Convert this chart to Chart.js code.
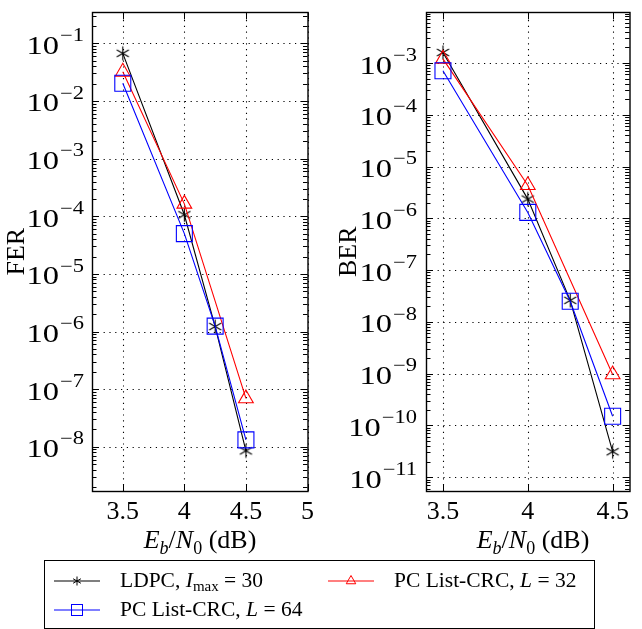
<!DOCTYPE html>
<html>
<head>
<meta charset="utf-8">
<script src="https://cdn.jsdelivr.net/npm/chart.js@4.4.1/dist/chart.umd.min.js"></script>
<style>
  html, body { margin: 0; padding: 0; background: #fff; }
  body { width: 642px; height: 629px; position: relative; overflow: hidden; font-family: "Liberation Serif", "Times New Roman", serif; color: #000; }
  canvas { position: absolute; top: 0; }
  #c1 { left: 0; }
  #c2 { left: 322px; }
  .xl { position: absolute; font-size: 26px; line-height: 26px; white-space: nowrap; transform: translateX(-50%); }
  .xl sub { font-size: 18px; line-height: 0; position: relative; top: 1px; vertical-align: -5px; }
  #legend { position: absolute; left: 44px; top: 560px; width: 549px; height: 67px; border: 1px solid #000; box-sizing: content-box; }
  .le { position: absolute; font-size: 21.5px; line-height: 24px; white-space: nowrap; }
  .le sub { font-size: 15px; line-height: 0; vertical-align: -4px; }
  .ls { position: absolute; }
</style>
</head>
<body>
<canvas id="c1" width="320" height="530"></canvas>
<canvas id="c2" width="320" height="530"></canvas>
<div class="xl" style="left:200px; top:527px;"><i>E</i><sub><i>b</i></sub>/<i>N</i><sub>0</sub> (dB)</div>
<div class="xl" style="left:533px; top:527px;"><i>E</i><sub><i>b</i></sub>/<i>N</i><sub>0</sub> (dB)</div>
<div id="legend"></div>
<script>
// ---- data ----
const ebn0 = [3.5, 4.0, 4.25, 4.5];

const ferLdpc = [0.067, 1.06e-4, 1.22e-6, 8.5e-9];
const ferPc32 = [0.032, 1.64e-4, null, 6.9e-8];
const ferPc64 = [0.0203, 5.0e-5, 1.24e-6, 1.32e-8];

const berLdpc = [1.6e-3, 2.35e-6, 2.6e-8, 3.1e-11];
const berPc32 = [1.2e-3, 4.35e-6, null, 9.6e-10];
const berPc64 = [7.1e-4, 1.3e-6, 2.5e-8, 1.5e-10];

const xTicksFer = [3.5, 4, 4.5, 5];
const xTicksBer = [3.5, 4, 4.5];
const yTicksFer = [1e-8, 1e-7, 1e-6, 1e-5, 1e-4, 1e-3, 1e-2, 1e-1];
const yTicksBer = [1e-11, 1e-10, 1e-9, 1e-8, 1e-7, 1e-6, 1e-5, 1e-4, 1e-3];

const seriesNames = ['LDPC, I_max = 30', 'PC List-CRC, L = 32', 'PC List-CRC, L = 64'];

// ---- styling ----
const FONT = '"Liberation Serif", "Times New Roman", serif';
const BLACK = '#000000', RED = '#ff0000', BLUE = '#0000ff';

function asteriskImg(color, r, lw) {
  const s = Math.ceil(2 * r + lw + 2) | 1;
  const c = document.createElement('canvas');
  c.width = c.height = s;
  const g = c.getContext('2d');
  g.strokeStyle = color; g.lineWidth = lw; g.lineCap = 'butt';
  g.beginPath();
  [90, 30, 150].forEach(deg => {
    const a = deg * Math.PI / 180;
    g.moveTo(s / 2 - r * Math.cos(a), s / 2 + r * Math.sin(a));
    g.lineTo(s / 2 + r * Math.cos(a), s / 2 - r * Math.sin(a));
  });
  g.stroke();
  return c;
}
const starPt = asteriskImg(BLACK, 7, 1.1);

function supDigits(e) { return '\u2212' + Math.abs(e); }

const pgfAxes = {
  id: 'pgfAxes',
  beforeDatasetsDraw(chart) {
    const { ctx, chartArea: a, scales: { x, y } } = chart;
    ctx.save();
    ctx.strokeStyle = '#000';
    ctx.lineWidth = 1.1;
    ctx.setLineDash([1.2, 4.6]);
    ctx.beginPath();
    x.ticks.forEach(t => {
      const px = Math.round(x.getPixelForValue(t.value)) + 0.5;
      ctx.moveTo(px, a.bottom); ctx.lineTo(px, a.top);
    });
    y.ticks.forEach(t => {
      const py = Math.round(y.getPixelForValue(t.value)) + 0.5;
      ctx.moveTo(a.left, py); ctx.lineTo(a.right, py);
    });
    ctx.stroke();
    ctx.restore();
  },
  afterDatasetsDraw(chart, args, opts) {
    const { ctx, chartArea: a, scales: { x, y } } = chart;
    ctx.save();
    ctx.strokeStyle = '#000';
    ctx.lineWidth = 1;
    ctx.beginPath();
    const MAJ = 7, MIN = 4.5;
    x.ticks.forEach(t => {
      const px = Math.round(x.getPixelForValue(t.value)) + 0.5;
      ctx.moveTo(px, a.bottom); ctx.lineTo(px, a.bottom - MAJ);
      ctx.moveTo(px, a.top); ctx.lineTo(px, a.top + MAJ);
    });
    y.ticks.forEach(t => {
      const py = Math.round(y.getPixelForValue(t.value)) + 0.5;
      ctx.moveTo(a.left, py); ctx.lineTo(a.left + MAJ, py);
      ctx.moveTo(a.right, py); ctx.lineTo(a.right - MAJ, py);
    });
    const k0 = Math.floor(Math.log10(y.min)), k1 = Math.ceil(Math.log10(y.max));
    for (let k = k0; k <= k1; k++) {
      for (let m = 2; m <= 9; m++) {
        const v = m * Math.pow(10, k);
        if (v <= y.min || v >= y.max) continue;
        const py = Math.round(y.getPixelForValue(v)) + 0.5;
        ctx.moveTo(a.left, py); ctx.lineTo(a.left + MIN, py);
        ctx.moveTo(a.right, py); ctx.lineTo(a.right - MIN, py);
      }
    }
    ctx.stroke();
    // frame
    ctx.lineWidth = 1.4;
    ctx.strokeRect(Math.round(a.left) + 0.5, Math.round(a.top) + 0.5, Math.round(a.right - a.left) - 0.5, Math.round(a.bottom - a.top));
    // y tick labels 10^k
    ctx.fillStyle = '#000';
    ctx.textBaseline = 'alphabetic';
    const sx = opts.sx || 1.25;
    y.ticks.forEach(t => {
      const e = Math.round(Math.log10(t.value));
      const py = y.getPixelForValue(t.value);
      const exp = supDigits(e);
      ctx.font = '18px ' + FONT;
      const we = ctx.measureText(exp).width * sx;
      ctx.font = '26px ' + FONT;
      const wb = ctx.measureText('10').width * sx;
      const xr = a.left - opts.gap;
      ctx.save();
      ctx.translate(xr - we - wb, py + 10.5);
      ctx.scale(sx, 1);
      ctx.fillText('10', 0, 0);
      ctx.restore();
      ctx.save();
      ctx.font = '18px ' + FONT;
      ctx.translate(xr - we + 1, py - 2.3);
      ctx.scale(sx, 1);
      ctx.fillText(exp, 0, 0);
      ctx.restore();
    });
    ctx.restore();
  }
};

function makeChart(id, cfg) {
  const ds = (label, data, color, style, radius, order) => ({
    label,
    data: ebn0.map((xv, i) => ({ x: xv, y: data[i] })),
    borderColor: color,
    backgroundColor: 'rgba(0,0,0,0)',
    borderWidth: 1.1,
    pointStyle: style,
    pointRadius: radius,
    pointHoverRadius: radius,
    pointBorderColor: color,
    pointBackgroundColor: 'rgba(0,0,0,0)',
    pointBorderWidth: 1.1,
    tension: 0,
    spanGaps: true,
    order
  });
  return new Chart(document.getElementById(id), {
    type: 'line',
    data: {
      datasets: [
        ds(seriesNames[0], cfg.ldpc, BLACK, starPt, 7, 2),
        ds(seriesNames[1], cfg.pc32, RED, 'triangle', 8.5, 1),
        ds(seriesNames[2], cfg.pc64, BLUE, 'rect', 11.3, 0)
      ]
    },
    options: {
      responsive: false,
      animation: false,
      devicePixelRatio: 1,
      layout: { padding: { left: 0, top: 6, right: cfg.padRight, bottom: 0 } },
      plugins: { legend: { display: false }, tooltip: { enabled: false }, pgfAxes: { gap: cfg.gap, sx: 1.25 } },
      scales: {
        x: {
          type: 'linear',
          min: cfg.xmin, max: cfg.xmax,
          afterBuildTicks: s => { s.ticks = cfg.xticks.map(v => ({ value: v })); },
          afterFit: s => { s.height = 39; },
          grid: { display: false, drawTicks: false },
          border: { display: false },
          ticks: {
            font: { family: FONT, size: 26 },
            color: '#000',
            padding: 6,
            maxRotation: 0,
            autoSkip: false,
            callback: v => String(v)
          }
        },
        y: {
          type: 'logarithmic',
          min: cfg.ymin, max: cfg.ymax,
          afterBuildTicks: s => { s.ticks = cfg.yticks.map(v => ({ value: v })); },
          afterFit: s => { s.width = cfg.yWidth; },
          grid: { display: false, drawTicks: false },
          border: { display: false },
          ticks: { display: false },
          title: {
            display: true,
            text: cfg.ytitle,
            color: '#000',
            font: { family: FONT, size: 26 },
            padding: { top: cfg.titlePad, bottom: 0 }
          }
        }
      }
    },
    plugins: [pgfAxes]
  });
}

makeChart('c1', {
  ldpc: ferLdpc, pc32: ferPc32, pc64: ferPc64,
  xmin: 3.25, xmax: 5, xticks: xTicksFer,
  ymin: 1.71e-9, ymax: 0.344, yticks: yTicksFer,
  yWidth: 92, padRight: 12, gap: 9, titlePad: 2, ytitle: 'FER'
});
makeChart('c2', {
  ldpc: berLdpc, pc32: berPc32, pc64: berPc64,
  xmin: 3.4, xmax: 4.6, xticks: xTicksBer,
  ymin: 5.4e-12, ymax: 9.5e-3, yticks: yTicksBer,
  yWidth: 104, padRight: 1, gap: 10, titlePad: 12, ytitle: 'BER'
});

// ---- legend (HTML text, SVG samples) ----
const legend = document.getElementById('legend');
function sample(x0, y, kind, color) {
  const w = 46, h = 16;
  let mark = '';
  const cx = w / 2, cy = h / 2;
  if (kind === 'star') {
    const r = 4.5;
    [90, 30, 150].forEach(d => {
      const a = d * Math.PI / 180;
      mark += `<line x1="${cx - r * Math.cos(a)}" y1="${cy + r * Math.sin(a)}" x2="${cx + r * Math.cos(a)}" y2="${cy - r * Math.sin(a)}" stroke="${color}" stroke-width="1"/>`;
    });
  } else if (kind === 'tri') {
    const r = 5.5;
    mark = `<polygon points="${cx},${cy - r} ${cx + r * 0.866},${cy + r / 2} ${cx - r * 0.866},${cy + r / 2}" fill="none" stroke="${color}" stroke-width="1"/>`;
  } else {
    mark = `<rect x="${cx - 5.5}" y="${cy - 5.5}" width="11" height="11" fill="none" stroke="${color}" stroke-width="1"/>`;
  }
  const svg = `<svg class="ls" style="left:${x0 - 44}px; top:${y - 560 - h / 2}px" width="${w}" height="${h}"><line x1="0" y1="${cy}" x2="${w}" y2="${cy}" stroke="${color}" stroke-width="1.1"/>${mark}</svg>`;
  legend.insertAdjacentHTML('beforeend', svg);
}
function entry(x0, y, html) {
  legend.insertAdjacentHTML('beforeend', `<div class="le" style="left:${x0 - 44}px; top:${y - 560 - 13}px">${html}</div>`);
}
sample(53, 580, 'star', BLACK);
entry(119, 580, 'LDPC, <i>I</i><sub>max</sub> = 30');
sample(327, 580, 'tri', RED);
entry(393, 580, 'PC List-CRC, <i>L</i> = 32');
sample(53, 609, 'rect', BLUE);
entry(119, 609, 'PC List-CRC, <i>L</i> = 64');
</script>
</body>
</html>
